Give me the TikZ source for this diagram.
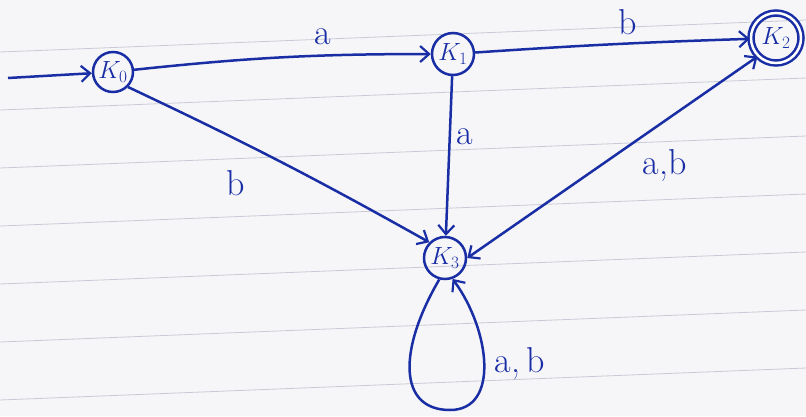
\documentclass[tikz,border=0pt]{standalone}
\usetikzlibrary{arrows.meta}
\definecolor{ink}{RGB}{25,45,165}
\definecolor{paper}{RGB}{246,246,248}
\definecolor{rule}{RGB}{200,202,214}
\tikzset{
  x=1pt, y=-1pt,
  state/.style={circle, draw=ink, line width=2.5pt, minimum size=40pt, inner sep=0pt, text=ink, font=\fontsize{24}{24}\selectfont},
  final/.style={state, double=white, double distance=2.5pt, minimum size=50pt},
  edge/.style={draw=ink, line width=2.5pt, -{Straight Barb[length=9pt,width=16pt,line width=2.2pt]}},
  lbl/.style={text=ink, font=\fontsize{36}{36}\selectfont},
  ruleline/.style={draw=rule, line width=0.8pt}
}
\begin{document}
\begin{tikzpicture}
\useasboundingbox (0,0) rectangle (806,416);
\fill[paper] (0,0) rectangle (806,416);
\foreach \k in {-1,...,7} {
  \draw[ruleline] (0,{52+58*\k}) -- (806,{52+58*\k-32});
}
\node[state] (k0) at (113,72) {$K_0$};
\node[state, minimum size=42pt] (k1) at (453,54) {$K_1$};
\node[final] (k2) at (776,38) {$K_2$};
\node[state, minimum size=42pt] (k3) at (445,258) {$K_3$};
\coordinate (s) at (8,78);
\draw[edge] (s) -- (k0);
\draw[edge] (k0) to[bend left=3] node[lbl, above=6pt, pos=0.65] {a} (k1);
\draw[edge] (k1) to[bend left=1] node[lbl, above=4pt, pos=0.56] {b} (k2);
\draw[edge] (k0.south east) to[bend left=2] node[lbl, below=24pt, xshift=-6pt, pos=0.36] {b} (k3.north west);
\draw[edge] (k1) -- node[lbl, right=2pt, pos=0.38] {a} (k3);
\draw[edge, {Straight Barb[length=9pt,width=16pt,line width=2.2pt]}-{Straight Barb[length=9pt,width=16pt,line width=2.2pt]}] (k2.south west) -- node[lbl, below=24pt, pos=0.32] {a,b} (k3.east);
\draw[edge] (k3.255) .. controls (398,350) and (398,410) .. (450,410)
  .. controls (500,410) and (490,330) .. node[lbl, right=6pt, pos=0.5] {a,\,b} (k3.290);
\end{tikzpicture}
\end{document}
